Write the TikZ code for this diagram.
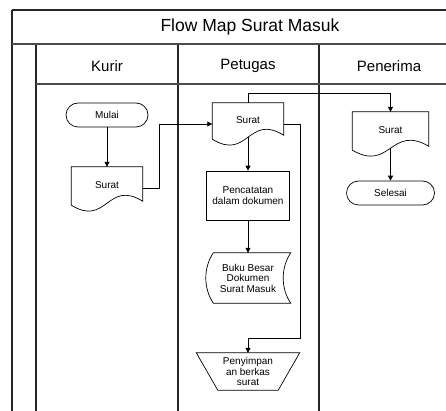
\documentclass[tikz,border=0pt]{standalone}
\usepackage{fontspec}
\setmainfont{Liberation Sans}
\usetikzlibrary{arrows.meta,calc}
\newcommand\docshape[1]{%
  \draw[shp] ([yshift=-2pt]#1.south west) -- (#1.north west) -- (#1.north east) -- ([yshift=2pt]#1.south east)
    .. controls ($(#1.south)+(0,-24)$) and ($(#1.south)+(0,24)$) .. ([yshift=-2pt]#1.south west);}
\newcommand\storedshape[1]{%
  \draw[shp] ($(#1.north west)+(8,0)$) -- (#1.north east)
    .. controls ($(#1.north east)+(-10,15)$) and ($(#1.south east)+(-10,-15)$) .. (#1.south east)
    -- ($(#1.south west)+(8,0)$)
    .. controls ($(#1.south west)+(-2,-15)$) and ($(#1.north west)+(-2,15)$) .. ($(#1.north west)+(8,0)$);}
\begin{document}
\begin{tikzpicture}[x=1pt,y=-1pt,
  lane/.style={line width=1.4pt, black!85},
  hline/.style={line width=1.1pt, black!70},
  shp/.style={line width=0.7pt},
  box/.style={inner sep=0pt, align=center, font=\fontsize{10}{10.5}\selectfont},
  arr/.style={line width=0.8pt, -{Triangle[length=5pt,width=5pt]}},
  ]
\useasboundingbox (0,0) rectangle (446,411);
% frame
\draw[lane] (12,10) -- (12,411);
\draw[lane] (36,44) -- (36,411);
\draw[lane] (178,44) -- (178,411);
\draw[lane] (319,44) -- (319,411);
\draw[lane] (12,10) -- (446,10);
\draw[hline] (12,44) -- (446,44);
\draw[hline] (36,84) -- (446,84);
% headers
\node[font=\fontsize{17.5}{20}\selectfont] (title) at (250,27) {Flow Map Surat Masuk};
\node[font=\fontsize{15}{17}\selectfont] (kurir) at (107,66) {Kurir};
\node[font=\fontsize{15}{17}\selectfont] (petugas) at (248,66) {Petugas};
\node[font=\fontsize{15}{17}\selectfont] (penerima) at (389,66) {Penerima};
% nodes
\node[box, draw, shp, rounded corners=12pt, minimum width=82pt, minimum height=24pt] (mulai) at (107,115) {Mulai};
\node[box, minimum width=71pt, minimum height=36pt] (s1) at (107,185) {Surat};
\docshape{s1}
\node[box, minimum width=71pt, minimum height=34pt] (s2) at (248,120) {Surat};
\docshape{s2}
\node[box, minimum width=76pt, minimum height=36pt] (s3) at (390.5,130) {Surat};
\docshape{s3}
\node[box, draw, shp, rounded corners=12pt, minimum width=88pt, minimum height=24pt] (sel) at (390.5,193) {Selesai};
\node[box, draw, shp, minimum width=83pt, minimum height=49pt] (pc) at (248,195.5) {Pencatatan\\dalam dokumen};
\node[box, minimum width=85pt, minimum height=50pt] (bk) at (248,278) {Buku Besar\\Dokumen\\Surat Masuk};
\storedshape{bk}
\node[box, minimum width=103pt, minimum height=37pt] (py) at (248,371.5) {Penyimpan\\an berkas\\surat};
\draw[shp] (py.north west) -- (py.north east) -- ($(py.south east)+(-21.5,0)$) -- ($(py.south west)+(21.5,0)$) -- cycle;
% connectors
\draw[arr] (mulai.south) -- (s1.north);
\draw[arr] ([yshift=-3pt]s1.east) -- ++(17,0) |- ([yshift=-4pt]s2.west);
\draw[arr] (s2.north) -- ++(0,-9) -| (s3.north);
\draw[arr] (s3.south) -- (sel.north);
\draw[arr] (s2.south) -- (pc.north);
\draw[arr] (pc.south) -- (bk.north);
\coordinate (bend) at (300,338);
\draw[arr] ([yshift=-4pt]s2.east) -| (bend) -| (py.north);
\end{tikzpicture}
\end{document}
